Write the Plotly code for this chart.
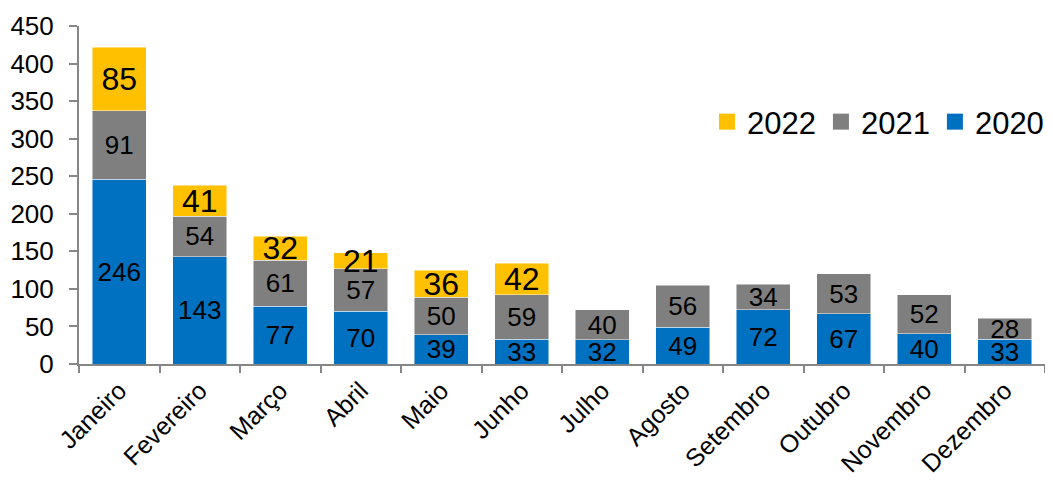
import plotly.graph_objects as go

months = ["Janeiro", "Fevereiro", "Março", "Abril", "Maio", "Junho",
          "Julho", "Agosto", "Setembro", "Outubro", "Novembro", "Dezembro"]
v2020 = [246, 143, 77, 70, 39, 33, 32, 49, 72, 67, 40, 33]
v2021 = [91, 54, 61, 57, 50, 59, 40, 56, 34, 53, 52, 28]
v2022 = [85, 41, 32, 21, 36, 42, None, None, None, None, None, None]
y_ticks = [0, 50, 100, 150, 200, 250, 300, 350, 400, 450]

FONT = "Liberation Sans, Arial, sans-serif"
series = [("2020", v2020, "#0070C0", 26),
          ("2021", v2021, "#7F7F7F", 26),
          ("2022", v2022, "#FFC000", 32)]

fig = go.Figure()
for name, vals, color, fs in series:
    fig.add_trace(go.Bar(
        x=months, y=vals, name=name, showlegend=False,
        marker=dict(color=color, line=dict(color="rgba(255,255,255,0.6)", width=0.8)),
        text=[("" if v is None else str(v)) for v in vals],
        textposition="inside", insidetextanchor="middle",
        textangle=0, constraintext="none",
        textfont=dict(family=FONT, size=fs, color="black"),
        hoverinfo="x+y+name",
    ))
# legend entries with larger square symbols
for name, vals, color, fs in series:
    fig.add_trace(go.Scatter(
        x=[None], y=[None], name=name, mode="markers",
        marker=dict(symbol="square", size=17, color=color),
        showlegend=True, hoverinfo="skip",
    ))

# page body has an 8px margin, so the figure is offset to compensate
fig.update_layout(
    barmode="stack", bargap=0.33,
    width=1070, height=478,
    margin=dict(l=71, r=33, t=18, b=122),
    plot_bgcolor="white", paper_bgcolor="white",
    font=dict(family=FONT, color="black"),
    legend=dict(orientation="h", traceorder="reversed",
                x=1.0041, y=0.716, xanchor="right", yanchor="middle",
                font=dict(size=31, family=FONT), itemwidth=30,
                bgcolor="rgba(0,0,0,0)"),
    showlegend=True,
)
fig.update_xaxes(showline=True, linecolor="#868686", linewidth=2,
                 ticks="outside", tickson="boundaries", ticklen=7,
                 tickcolor="#868686", tickwidth=2,
                 tickangle=-45, tickfont=dict(size=25, family=FONT),
                 showgrid=False, automargin=False)
fig.update_yaxes(range=[0, 450], tickvals=y_ticks, showline=True,
                 linecolor="#868686", linewidth=2,
                 ticks="outside", ticklen=8, tickcolor="#868686", tickwidth=2,
                 ticklabelstandoff=10,
                 tickfont=dict(size=26, family=FONT), showgrid=False,
                 zeroline=False, automargin=False)

fig.write_html("out.html")
